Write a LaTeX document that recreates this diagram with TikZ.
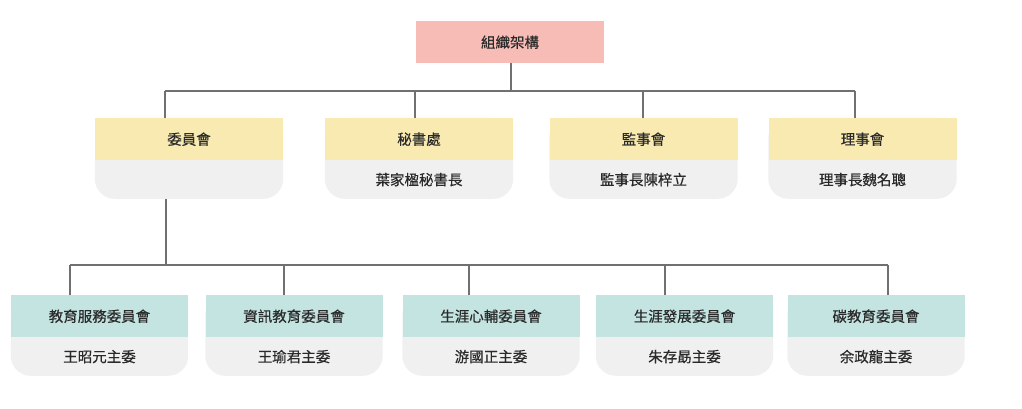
\documentclass[tikz,border=0pt]{standalone}
\usepackage{fontspec}
\setmainfont{Noto Sans CJK TC}
\newfontfamily\cjkm[FakeBold=0.5]{Noto Sans CJK TC}
\usetikzlibrary{backgrounds}
\definecolor{pinkh}{HTML}{F8BCB6}
\definecolor{yellowh}{HTML}{F8EAB0}
\definecolor{tealh}{HTML}{C3E4E1}
\definecolor{bodyg}{HTML}{F0F0F0}
\definecolor{linec}{HTML}{707070}
\definecolor{textc}{HTML}{2A2A2A}
\tikzset{
  lbl/.style={font=\cjkm\fontsize{14.5pt}{17pt}\selectfont, text=textc, inner sep=0pt},
  topbox/.style={lbl, fill=pinkh, minimum width=188pt, minimum height=42pt, anchor=north},
  yhead/.style={lbl, fill=yellowh, minimum width=188pt, minimum height=42pt, anchor=north},
  ybody/.style={lbl, minimum width=188pt, minimum height=38pt, anchor=north},
  thead/.style={lbl, fill=tealh, minimum width=177pt, minimum height=42pt, anchor=north},
  tbody/.style={lbl, minimum width=177pt, minimum height=38pt, anchor=north},
  conn/.style={draw=linec, line width=1.2pt},
  cardbg/.style={fill=bodyg, rounded corners=20pt}
}
\begin{document}
\begin{tikzpicture}[x=1pt,y=-1pt]
\useasboundingbox (0,0) rectangle (1022,409);
% top
\node[topbox] (top) at (510,21) {組織架構};
% level 2
\node[yhead] (h1) at (189,118) {委員會};
\node[ybody] (b1) at (h1.south) {};
\node[yhead] (h2) at (419,118) {秘書處};
\node[ybody] (b2) at (h2.south) {葉家楹秘書長};
\node[yhead] (h3) at (643.5,118) {監事會};
\node[ybody] (b3) at (h3.south) {監事長陳梓立};
\node[yhead] (h4) at (862.5,118) {理事會};
\node[ybody] (b4) at (h4.south) {理事長魏名聰};
% level 3
\node[thead] (k1) at (99.5,295) {教育服務委員會};
\node[tbody] (m1) at (k1.south) {王昭元主委};
\node[thead] (k2) at (294,295) {資訊教育委員會};
\node[tbody] (m2) at (k2.south) {王瑜君主委};
\node[thead] (k3) at (491,295) {生涯心輔委員會};
\node[tbody] (m3) at (k3.south) {游國正主委};
\node[thead] (k4) at (684.5,295) {生涯發展委員會};
\node[tbody] (m4) at (k4.south) {朱存勗主委};
\node[thead] (k5) at (876,295) {碳教育委員會};
\node[tbody] (m5) at (k5.south) {余政龍主委};
% card backgrounds
\begin{scope}[on background layer]
  \fill[white] (0,0) rectangle (1022,409);
  \foreach \h/\b in {h1/b1,h2/b2,h3/b3,h4/b4,k1/m1,k2/m2,k3/m3,k4/m4,k5/m5}
    \fill[cardbg] (\h.north west) rectangle (\b.south east);
\end{scope}
% bus coordinates
\coordinate (busA) at (511,91);
\coordinate (d1) at (165,91);
\coordinate (d2) at (415,91);
\coordinate (d3) at (643,91);
\coordinate (d4) at (855,91);
\coordinate (busB) at (166,265);
\coordinate (e1) at (70,265);
\coordinate (e2) at (284,265);
\coordinate (e3) at (469,265);
\coordinate (e4) at (665,265);
\coordinate (e5) at (888,265);
% connectors
\draw[conn] (busA |- top.south) -- (busA);
\draw[conn] (d1) -- (d4);
\foreach \d/\h in {d1/h1,d2/h2,d3/h3,d4/h4}
  \draw[conn] (\d) -- (\d |- \h.north);
\draw[conn] (busB |- b1.south) -- (busB);
\draw[conn] (e1) -- (e5);
\foreach \e/\k in {e1/k1,e2/k2,e3/k3,e4/k4,e5/k5}
  \draw[conn] (\e) -- (\e |- \k.north);
\end{tikzpicture}
\end{document}
